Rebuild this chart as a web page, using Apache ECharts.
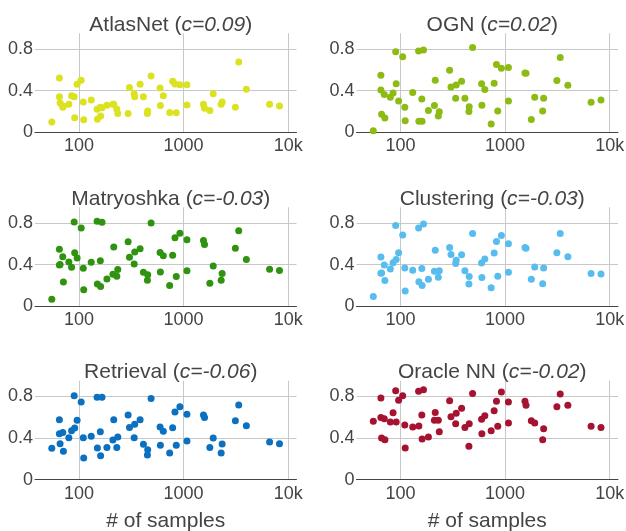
<!DOCTYPE html>
<html><head><meta charset="utf-8">
<script src="https://cdn.jsdelivr.net/npm/echarts@6/dist/echarts.min.js"></script>
<style>html,body{margin:0;padding:0;background:#fff}#c{width:626px;height:531px}</style>
</head><body><div id="c"></div>
<script>
// shared x values (# of samples)
const samples = [55, 65, 65, 66, 70, 71, 80, 85, 90, 91, 96, 105, 110, 111, 131, 149, 150, 160, 161, 166,
  185, 211, 215, 230, 235, 295, 304, 337, 341, 384, 413, 451, 454, 489, 596, 600, 640, 736, 786, 827,
  851, 922, 1076, 1077, 1549, 1585, 1782, 1919, 2287, 2336, 3126, 3365, 3981, 6637, 8254];

const atlasNet = [0.10, 0.52, 0.34, 0.28, 0.24, 0.25, 0.27, 0.35, 0.34, 0.14, 0.46, 0.50, 0.29, 0.12, 0.31,
  0.22, 0.125, 0.24, 0.157, 0.235, 0.26, 0.27, 0.27, 0.22, 0.18, 0.18, 0.43, 0.37, 0.34, 0.46, 0.34, 0.18, 0.205,
  0.54, 0.425, 0.256, 0.35, 0.19, 0.49, 0.464, 0.188, 0.457, 0.457, 0.262, 0.27, 0.23, 0.21, 0.37, 0.27, 0.29,
  0.24, 0.675, 0.413, 0.27, 0.253];

const ogn = [0.016, 0.547, 0.406, 0.173, 0.362, 0.138, 0.336, 0.378, 0.774, 0.467, 0.301, 0.726, 0.24, 0.112, 0.381,
  0.781, 0.106, 0.32, 0.106, 0.79, 0.208, 0.256, 0.499, 0.157, 0.198, 0.595, 0.435, 0.326, 0.454, 0.49, 0.326, 0.2, 0.246,
  0.813, 0.467, 0.259, 0.41, 0.08, 0.47, 0.65, 0.205, 0.614, 0.621, 0.301, 0.57, 0.566, 0.122, 0.336, 0.205, 0.326,
  0.496, 0.717, 0.451, 0.288, 0.31];

const matryoshka = [0.067, 0.547, 0.397, 0.40, 0.476, 0.232, 0.426, 0.375, 0.81, 0.514, 0.464, 0.752, 0.366, 0.159, 0.422,
  0.816, 0.213, 0.438, 0.19, 0.806, 0.263, 0.308, 0.568, 0.289, 0.352, 0.619, 0.47, 0.406, 0.52, 0.552, 0.327, 0.251, 0.302,
  0.8, 0.517, 0.33, 0.486, 0.2, 0.489, 0.657, 0.286, 0.702, 0.638, 0.34, 0.632, 0.594, 0.222, 0.387, 0.251, 0.314,
  0.556, 0.724, 0.448, 0.356, 0.343];

const clustering = [0.095, 0.473, 0.317, 0.32, 0.397, 0.248, 0.359, 0.419, 0.775, 0.448, 0.514, 0.683, 0.368, 0.146, 0.346,
  0.752, 0.235, 0.362, 0.2, 0.79, 0.26, 0.337, 0.537, 0.279, 0.34, 0.565, 0.498, 0.41, 0.441, 0.495, 0.34, 0.213, 0.286,
  0.698, 0.416, 0.276, 0.454, 0.178, 0.511, 0.622, 0.289, 0.679, 0.6, 0.327, 0.565, 0.556, 0.26, 0.378, 0.216, 0.368,
  0.514, 0.698, 0.476, 0.314, 0.311];

const retrieval = [0.301, 0.576, 0.442, 0.346, 0.454, 0.272, 0.403, 0.47, 0.806, 0.496, 0.57, 0.746, 0.403, 0.208, 0.416,
  0.79, 0.304, 0.461, 0.23, 0.79, 0.31, 0.381, 0.576, 0.31, 0.41, 0.621, 0.502, 0.403, 0.531, 0.576, 0.339, 0.237, 0.288,
  0.778, 0.506, 0.33, 0.464, 0.256, 0.499, 0.65, 0.33, 0.701, 0.627, 0.371, 0.621, 0.598, 0.31, 0.4, 0.256, 0.342,
  0.566, 0.717, 0.518, 0.362, 0.346];

const oracleNN = [0.56, 0.784, 0.598, 0.4, 0.586, 0.384, 0.554, 0.643, 0.854, 0.554, 0.762, 0.806, 0.525, 0.304, 0.506,
  0.848, 0.515, 0.621, 0.39, 0.864, 0.41, 0.57, 0.646, 0.57, 0.461, 0.758, 0.605, 0.538, 0.637, 0.685, 0.502, 0.32, 0.538,
  0.826, 0.579, 0.442, 0.614, 0.47, 0.662, 0.752, 0.512, 0.842, 0.746, 0.544, 0.752, 0.714, 0.566, 0.544, 0.384, 0.49,
  0.701, 0.822, 0.714, 0.512, 0.502];

const panelNames = ['AtlasNet', 'OGN', 'Matryoshka', 'Clustering', 'Retrieval', 'Oracle NN'];
const panelCorr = ['0.09', '0.02', '-0.03', '-0.03', '-0.06', '-0.02'];
const panelValues = [atlasNet, ogn, matryoshka, clustering, retrieval, oracleNN];
const panelColors = ['#dbe21f', '#8cbb14', '#2f930f', '#58bdee', '#0b70bf', '#a51330'];
const xTickLabels = {100: '100', 1000: '1000', 10000: '10k'};
const yTickLabels = {0: '0', 0.4: '0.4', 0.8: '0.8'};
const xAxisTitle = '# of samples';

const FONT = 'Liberation Sans';
const TXT = '#444';
const GRIDC = '#c8c8c8';
const colLeft = [35, 356.5];
const plotW = 261.5;
const rowTop = [33.3, 207.3, 380.7];
const plotH = 99;

const grids = [], xAxes = [], yAxes = [], series = [], titles = [];
for (let i = 0; i < 6; i++) {
  const col = i % 2, row = Math.floor(i / 2);
  grids.push({left: colLeft[col], top: rowTop[row], width: plotW, height: plotH, outerBoundsMode: 'none'});
  xAxes.push({
    type: 'log', logBase: 10, gridIndex: i, min: 38, max: 12000,
    axisLine: {show: true, lineStyle: {color: TXT, width: 1}},
    axisTick: {show: false},
    axisLabel: {
      color: TXT, fontFamily: FONT, fontSize: 18, margin: 5,
      showMinLabel: false, showMaxLabel: false,
      formatter: v => xTickLabels[Math.round(v)] || ''
    },
    splitLine: {show: true, showMinLine: false, showMaxLine: false, lineStyle: {color: GRIDC, width: 1}},
    name: row === 2 ? xAxisTitle : '',
    nameLocation: 'middle', nameGap: 31,
    nameTextStyle: {color: TXT, fontFamily: FONT, fontSize: 21}
  });
  yAxes.push({
    type: 'value', gridIndex: i, min: 0, max: 0.95, interval: 0.4,
    axisLine: {show: false}, axisTick: {show: false},
    axisLabel: {
      color: TXT, fontFamily: FONT, fontSize: 18, margin: 2,
      showMaxLabel: false,
      formatter: v => { const k = Math.round(v * 10) / 10; return (k in yTickLabels) ? yTickLabels[k] : ''; }
    },
    splitLine: {show: true, showMinLine: false, showMaxLine: false, lineStyle: {color: GRIDC, width: 1}}
  });
  series.push({
    type: 'scatter', xAxisIndex: i, yAxisIndex: i, symbolSize: 7,
    itemStyle: {color: panelColors[i], opacity: 1},
    data: samples.map((x, j) => [x, panelValues[i][j]])
  });
  titles.push({
    text: panelNames[i] + ' ({i|c=' + panelCorr[i] + '})',
    left: colLeft[col] + plotW / 2, top: rowTop[row] - 24, textAlign: 'center',
    textStyle: {
      color: TXT, fontFamily: FONT, fontSize: 21, fontWeight: 'normal',
      rich: {i: {fontStyle: 'italic', color: TXT, fontFamily: FONT, fontSize: 21}}
    }
  });
}

const chart = echarts.init(document.getElementById('c'), null, {renderer: 'canvas'});
chart.setOption({
  animation: false,
  backgroundColor: '#fff',
  title: titles,
  grid: grids,
  xAxis: xAxes,
  yAxis: yAxes,
  series: series
});
</script>
</body></html>
